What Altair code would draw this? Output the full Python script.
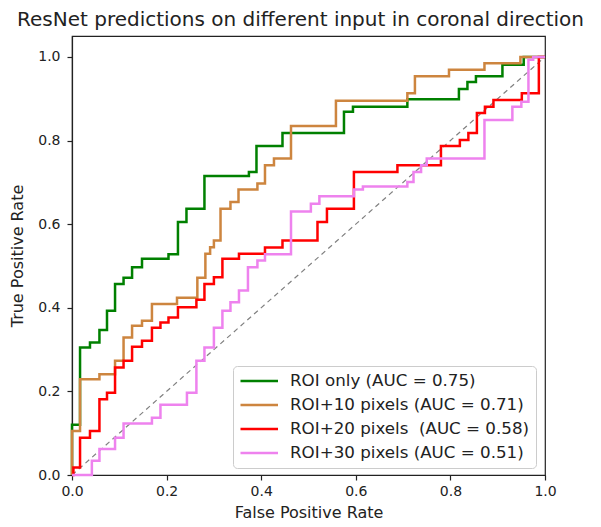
import altair as alt
import pandas as pd

# ---- data ----
series_names = [
    "ROI only (AUC = 0.75)",
    "ROI+10 pixels (AUC = 0.71)",
    "ROI+20 pixels \u00a0(AUC = 0.58)",
    "ROI+30 pixels (AUC = 0.51)",
]
series_colors = ["#008000", "#cd853f", "#ff0000", "#ee82ee"]

green_fpr = [0.0, 0.0, 0.017, 0.038, 0.058, 0.074, 0.091, 0.109, 0.127, 0.148, 0.204, 0.224,
             0.242, 0.280, 0.374, 0.390, 0.445, 0.575, 0.594, 0.709, 0.818, 0.836, 0.854,
             0.910, 0.955, 1.0]
green_tpr = [0.0, 0.12, 0.305, 0.317, 0.347, 0.393, 0.457, 0.472, 0.497, 0.517, 0.528, 0.605,
             0.637, 0.715, 0.725, 0.787, 0.818, 0.869, 0.881, 0.899, 0.923, 0.940, 0.954,
             0.981, 1.0, 1.0]

orange_fpr = [0.0, 0.0, 0.017, 0.058, 0.091, 0.109, 0.127, 0.148, 0.169, 0.222, 0.265, 0.282,
              0.292, 0.300, 0.314, 0.335, 0.352, 0.392, 0.408, 0.427, 0.463, 0.558, 0.709,
              0.725, 0.797, 0.872, 0.948, 1.0]
orange_tpr = [0.0, 0.105, 0.229, 0.241, 0.273, 0.329, 0.357, 0.369, 0.409, 0.424, 0.472, 0.529,
              0.545, 0.561, 0.637, 0.653, 0.683, 0.697, 0.741, 0.757, 0.835, 0.895, 0.913,
              0.954, 0.969, 0.985, 1.0, 1.0]

red_fpr = [0.0, 0.003, 0.017, 0.038, 0.058, 0.074, 0.091, 0.109, 0.127, 0.148, 0.169, 0.187,
           0.204, 0.224, 0.263, 0.280, 0.300, 0.318, 0.353, 0.408, 0.445, 0.519, 0.539, 0.596,
           0.688, 0.780, 0.820, 0.838, 0.856, 0.873, 0.891, 0.951, 0.987, 1.0]
red_tpr = [0.0, 0.018, 0.089, 0.105, 0.181, 0.197, 0.257, 0.273, 0.307, 0.321, 0.352, 0.365,
           0.377, 0.401, 0.419, 0.457, 0.473, 0.517, 0.529, 0.544, 0.561, 0.605, 0.637, 0.725,
           0.741, 0.787, 0.801, 0.818, 0.866, 0.881, 0.897, 0.913, 1.0, 1.0]

violet_fpr = [0.0, 0.042, 0.058, 0.091, 0.109, 0.169, 0.187, 0.243, 0.263, 0.280, 0.300, 0.318,
              0.335, 0.353, 0.372, 0.392, 0.408, 0.463, 0.505, 0.523, 0.596, 0.615, 0.709,
              0.722, 0.738, 0.750, 0.872, 0.931, 0.950, 0.965, 0.975, 1.0]
violet_tpr = [0.0, 0.034, 0.062, 0.089, 0.123, 0.137, 0.168, 0.197, 0.273, 0.305, 0.352, 0.393,
              0.413, 0.441, 0.497, 0.513, 0.528, 0.630, 0.649, 0.667, 0.683, 0.690, 0.701,
              0.725, 0.741, 0.757, 0.849, 0.881, 0.893, 0.993, 1.0, 1.0]

chance_x = [0.0, 1.0]
chance_y = [0.0, 1.0]

tick_values = [0.0, 0.2, 0.4, 0.6, 0.8, 1.0]

# ---- build table ----
rows = []
for name, fx, fy in zip(series_names,
                        [green_fpr, orange_fpr, red_fpr, violet_fpr],
                        [green_tpr, orange_tpr, red_tpr, violet_tpr]):
    for i, (a, b) in enumerate(zip(fx, fy)):
        rows.append({"series": name, "fpr": a, "tpr": b, "idx": i})
df = pd.DataFrame(rows)
diag = pd.DataFrame({"fpr": chance_x, "tpr": chance_y})

FONT = "DejaVu Sans"

xscale = alt.Scale(domain=[0, 1], nice=False, zero=False)
yscale = alt.Scale(domain=[0, 1.05], nice=False, zero=False)

xaxis = alt.Axis(values=tick_values, format=".1f", title="False Positive Rate",
                 labelFlush=False, labelOverlap=False, labelPadding=4, titlePadding=6)
yaxis = alt.Axis(values=tick_values, format=".1f", title="True Positive Rate",
                 labelFlush=False, labelOverlap=False, labelPadding=7, titlePadding=12)

diag_layer = alt.Chart(diag).mark_line(
    color="#808080", strokeWidth=1.2, strokeDash=[5, 4]
).encode(
    x=alt.X("fpr:Q", scale=xscale, axis=xaxis),
    y=alt.Y("tpr:Q", scale=yscale, axis=yaxis),
)

curves = alt.Chart(df).mark_line(interpolate="step-after", strokeWidth=2.5).encode(
    x=alt.X("fpr:Q", scale=xscale, axis=xaxis),
    y=alt.Y("tpr:Q", scale=yscale, axis=yaxis),
    order=alt.Order("idx:Q"),
    color=alt.Color(
        "series:N",
        scale=alt.Scale(domain=series_names, range=series_colors),
        legend=alt.Legend(
            title=None,
            orient="none",
            legendX=161,
            legendY=330,
            symbolType="M-1,0H4",
            symbolSize=225,
            symbolStrokeWidth=2.5,
            labelFont=FONT,
            labelFontSize=16.7,
            labelColor="#222222",
            labelLimit=400,
            labelOffset=33,
            padding=6,
            rowPadding=6,
            strokeColor="#cccccc",
            fillColor="white",
            cornerRadius=4,
        ),
    ),
)

chart = alt.layer(diag_layer, curves).properties(
    width=473,
    height=439,
    padding={"left": 64, "top": 28, "right": 46, "bottom": 48},
    autosize=alt.AutoSizeParams(type="none"),
    title=alt.TitleParams(
        "ResNet predictions on different input in coronal direction",
        font=FONT, fontSize=20, fontWeight="normal", color="#222222",
        anchor="middle", offset=6, dx=-8,
    ),
).configure_view(
    stroke="#222222", strokeWidth=1.2
).configure_axis(
    grid=False,
    domainColor="#222222",
    domainWidth=1.2,
    tickColor="#222222",
    tickSize=5,
    tickWidth=1.2,
    labelFont=FONT,
    labelFontSize=14,
    labelColor="#222222",
    titleFont=FONT,
    titleFontSize=16,
    titleFontWeight="normal",
    titleColor="#222222",
)

chart.save("out.html", embed_options={"renderer": "svg", "actions": False})
